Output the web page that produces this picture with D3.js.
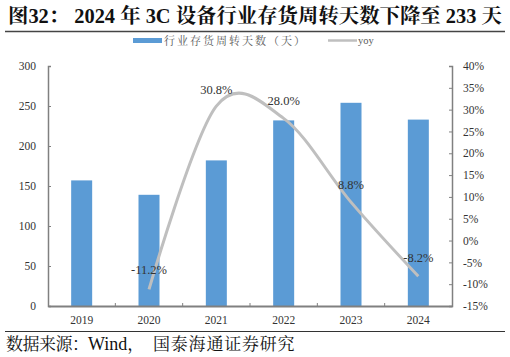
<!DOCTYPE html>
<html><head><meta charset="utf-8">
<script src="https://cdn.jsdelivr.net/npm/d3@7"></script>
<style>body{margin:0;background:#fff}svg{display:block}</style>
</head><body>
<svg id="c" width="510" height="357"></svg>
<script>
const categories = ["2019","2020","2021","2022","2023","2024"];
const days = [157, 139, 182, 232, 254, 233];
const yoyYears = ["2020","2021","2022","2023","2024"];
const yoy = [-11.2, 30.8, 28.0, 8.8, -8.2];
const leftTicks = [0,50,100,150,200,250,300];
const rightTicks = [-15,-10,-5,0,5,10,15,20,25,30,35,40];

const svg = d3.select("#c");
const serif = "'Liberation Serif','Times New Roman',serif";
const cjk = "'Liberation Serif','Noto Serif CJK SC','Noto Sans CJK SC',serif";
const m = {l:48, r:452, t:66, b:306};

const x = d3.scaleBand().domain(categories).range([m.l, m.r]).paddingInner(0).paddingOuter(0);
const yL = d3.scaleLinear().domain([0,300]).range([m.b, m.t]);
const yR = d3.scaleLinear().domain([-15,40]).range([m.b, m.t]);

// title
svg.append("text").attr("x",8).attr("y",23).attr("font-family",cjk).attr("font-weight","bold")
  .attr("font-size",20.4).attr("fill","#111").text("图32：  2024 年 3C 设备行业存货周转天数下降至 233 天");
svg.append("line").attr("x1",5).attr("x2",505).attr("y1",31.5).attr("y2",31.5).attr("stroke","#444").attr("stroke-width",1.5);

// legend
svg.append("rect").attr("x",133).attr("y",38).attr("width",29).attr("height",5).attr("fill","#5B9BD5");
svg.append("text").attr("x",164).attr("y",44.5).attr("font-family",cjk).attr("font-size",11).attr("letter-spacing",2)
  .attr("fill","#595959").text("行业存货周转天数（天）");
svg.append("line").attr("x1",328).attr("x2",357).attr("y1",40.5).attr("y2",40.5).attr("stroke","#BFBFBF").attr("stroke-width",2.5);
svg.append("text").attr("x",358).attr("y",44).attr("font-family",serif).attr("font-size",10.5).attr("fill","#595959").text("yoy");

// bars
const bw = 21;
svg.selectAll("rect.bar").data(categories).enter().append("rect").attr("class","bar")
  .attr("x",d=>x(d)+x.bandwidth()/2-bw/2).attr("width",bw)
  .attr("y",(d,i)=>yL(days[i])).attr("height",(d,i)=>yL(0)-yL(days[i]))
  .attr("fill","#5B9BD5");

// axes
const axCol = "#808080";
const gL = svg.append("g").attr("transform",`translate(${m.l},0)`)
  .call(d3.axisLeft(yL).tickValues(leftTicks).tickSize(-3).tickPadding(12));
const gR = svg.append("g").attr("transform",`translate(${m.r},0)`)
  .call(d3.axisRight(yR).tickValues(rightTicks).tickSize(-3).tickFormat(d=>d+"%").tickPadding(11));
const gX = svg.append("g").attr("transform",`translate(0,${m.b})`)
  .call(d3.axisBottom(x).tickSize(0).tickPadding(10));
[gL,gR,gX].forEach(g=>{
  g.select(".domain").attr("stroke",axCol).attr("stroke-width",1.5);
  g.selectAll(".tick line").attr("stroke",axCol);
  g.selectAll("text").attr("font-family",serif).attr("font-size",11.5).attr("fill","#333");
});
gX.select(".domain").attr("stroke-width",2);
// category separator ticks
svg.append("g").selectAll("line").data(categories.slice(1)).enter().append("line")
  .attr("x1",d=>x(d)).attr("x2",d=>x(d)).attr("y1",m.b).attr("y2",m.b-3).attr("stroke",axCol);

// yoy line
const pts = yoyYears.map((c,i)=>[x(c)+x.bandwidth()/2, yR(yoy[i])]);
svg.append("path").attr("d",d3.line().curve(d3.curveCatmullRom.alpha(0))(pts))
  .attr("fill","none").attr("stroke","#BFBFBF").attr("stroke-width",3);

// labels
const offs = [[0,-15],[0,-12],[0,-13],[0,-13],[0,-14]];
svg.selectAll("text.lbl").data(yoyYears).enter().append("text").attr("class","lbl")
  .attr("x",(d,i)=>pts[i][0]+offs[i][0]).attr("y",(d,i)=>pts[i][1]+offs[i][1])
  .attr("text-anchor","middle").attr("font-family",serif).attr("font-size",12.5).attr("fill","#333")
  .text((d,i)=>yoy[i].toFixed(1)+"%");

// bottom
svg.append("line").attr("x1",5).attr("x2",505).attr("y1",331.5).attr("y2",331.5).attr("stroke","#333").attr("stroke-width",1.2);
const src = svg.append("text").attr("y",350).attr("font-family",cjk).attr("font-size",17).attr("fill","#111");
src.append("tspan").attr("x",6).attr("letter-spacing",-0.5).text("数据来源：");
src.append("tspan").attr("x",88).attr("font-size",18).text("Wind");
src.append("tspan").text("，");
src.append("tspan").attr("x",153).attr("letter-spacing",0.8).text("国泰海通证券研究");
</script>
</body></html>
